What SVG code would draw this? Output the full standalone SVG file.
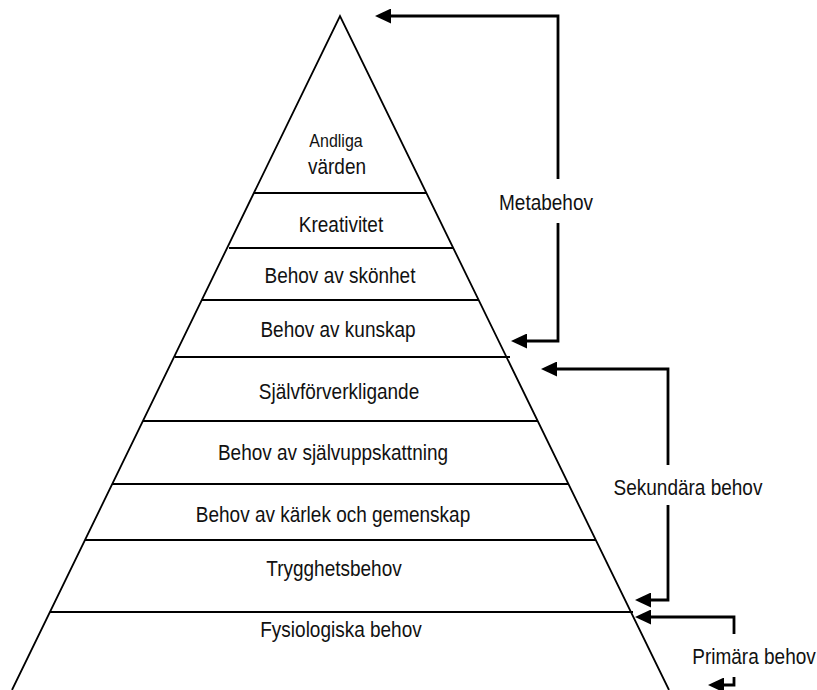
<svg xmlns="http://www.w3.org/2000/svg" width="817" height="690" viewBox="0 0 817 690">
<style>
.edge{fill:none;stroke:#000;stroke-width:1.8}
.band{stroke:#000;stroke-width:2.2}
.lbl{font-family:"Liberation Sans",Arial,sans-serif;font-size:19px;fill:#111;text-anchor:middle}
.conn{fill:none;stroke:#000;stroke-width:2.8}
</style>
<defs>
<marker id="ah" viewBox="0 0 16 15" refX="0" refY="7.5" markerWidth="16" markerHeight="15" markerUnits="userSpaceOnUse" orient="auto">
<path d="M0,0 L16,7.5 L0,15 z" fill="#000"/>
</marker>
</defs>
<rect width="817" height="690" fill="#fff"/>
<g id="pyramid">
<polyline class="edge" points="12,690 340,16 669,690"/>
<line class="band" x1="254" y1="193" x2="427" y2="193"/>
<line class="band" x1="229" y1="248" x2="453" y2="248"/>
<line class="band" x1="202" y1="300" x2="479" y2="300"/>
<line class="band" x1="175" y1="357" x2="510" y2="357"/>
<line class="band" x1="143" y1="421" x2="538" y2="421"/>
<line class="band" x1="112" y1="484" x2="569" y2="484"/>
<line class="band" x1="85" y1="540" x2="596" y2="540"/>
<line class="band" x1="50" y1="612" x2="633" y2="612"/>
</g>
<g id="level-andliga"><text class="lbl" transform="translate(336,147) scale(1,1.12)" style="font-size:16px">Andliga</text><text class="lbl" transform="translate(337,174) scale(1,1.12)">värden</text></g>
<g id="level-kreativitet"><text class="lbl" transform="translate(341,232) scale(1,1.12)">Kreativitet</text></g>
<g id="level-skonhet"><text class="lbl" transform="translate(340,283) scale(1,1.12)">Behov av skönhet</text></g>
<g id="level-kunskap"><text class="lbl" transform="translate(338,337) scale(1,1.12)">Behov av kunskap</text></g>
<g id="level-sjalvforverkligande"><text class="lbl" transform="translate(339,399) scale(1,1.12)">Självförverkligande</text></g>
<g id="level-sjalvuppskattning"><text class="lbl" transform="translate(333,460) scale(1,1.12)">Behov av självuppskattning</text></g>
<g id="level-karlek"><text class="lbl" transform="translate(333,522) scale(1,1.12)">Behov av kärlek och gemenskap</text></g>
<g id="level-trygghet"><text class="lbl" transform="translate(334,576) scale(1,1.12)">Trygghetsbehov</text></g>
<g id="level-fysiologiska"><text class="lbl" transform="translate(341,637) scale(1,1.12)">Fysiologiska behov</text></g>
<g id="label-metabehov"><text class="lbl" transform="translate(546,210) scale(1,1.12)">Metabehov</text></g>
<g id="label-sekundara"><text class="lbl" transform="translate(688,495) scale(1,1.12)">Sekundära behov</text></g>
<g id="label-primara"><text class="lbl" transform="translate(754,664) scale(1,1.12)">Primära behov</text></g>
<g id="connectors">
<path class="conn" d="M558,179 V16 H391" marker-end="url(#ah)"/>
<path class="conn" d="M558,223 V341 H527" marker-end="url(#ah)"/>
<path class="conn" d="M668,465 V369 H557" marker-end="url(#ah)"/>
<path class="conn" d="M668,505 V600 H651" marker-end="url(#ah)"/>
<path class="conn" d="M734,634 V617 H651" marker-end="url(#ah)"/>
<path class="conn" d="M734,677 V685 H724" marker-end="url(#ah)"/>
</g>
</svg>
